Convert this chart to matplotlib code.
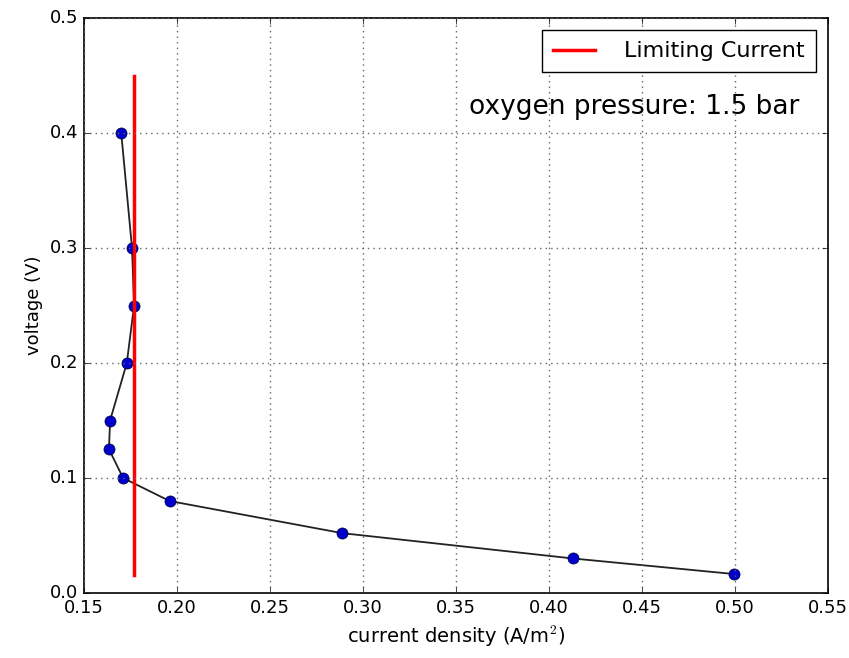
import matplotlib
matplotlib.use('Agg')
import matplotlib.pyplot as plt

# measured polarisation data
current_density = [0.170, 0.1758, 0.1769, 0.173, 0.164, 0.1634, 0.171, 0.196, 0.289, 0.413, 0.4995]
voltage = [0.400, 0.300, 0.250, 0.200, 0.150, 0.125, 0.100, 0.080, 0.052, 0.030, 0.0165]

limiting_current = 0.177
limit_v_range = [0.016, 0.450]

plt.style.use('classic')
fig = plt.figure(figsize=(8.49, 6.58), dpi=100)
fig.patch.set_facecolor('white')
ax = fig.add_axes([0.099, 0.0988, 0.876, 0.8738])

ax.plot(current_density, voltage, '-', color='#222222', lw=1.3)
ax.plot(current_density, voltage, 'o', color='#0000cc', markeredgecolor='#000033', markersize=8)
ax.plot([limiting_current, limiting_current], limit_v_range, color='red', lw=2.5, label='Limiting Current')

ax.set_xlim(0.15, 0.55)
ax.set_ylim(0.0, 0.5)
ax.set_xticks([0.15, 0.20, 0.25, 0.30, 0.35, 0.40, 0.45, 0.50, 0.55])
ax.set_yticks([0.0, 0.1, 0.2, 0.3, 0.4, 0.5])
ax.tick_params(labelsize=13)
ax.grid(True, linestyle=(0, (1, 3)), color='#666666', lw=1.0)
for s in ax.spines.values():
    s.set_linewidth(1.2)

ax.set_xlabel('current density (A/m$^2$)', fontsize=14)
ax.set_ylabel('voltage (V)', fontsize=13)
ax.text(0.962, 0.845, 'oxygen pressure: 1.5 bar', transform=ax.transAxes,
        fontsize=19, ha='right', va='center')
ax.legend(loc='upper right', fontsize=16, numpoints=1, handlelength=1.9,
          handletextpad=1.3, borderaxespad=0.55, borderpad=0.5)

fig.savefig('out.png', dpi=100, facecolor='white')
